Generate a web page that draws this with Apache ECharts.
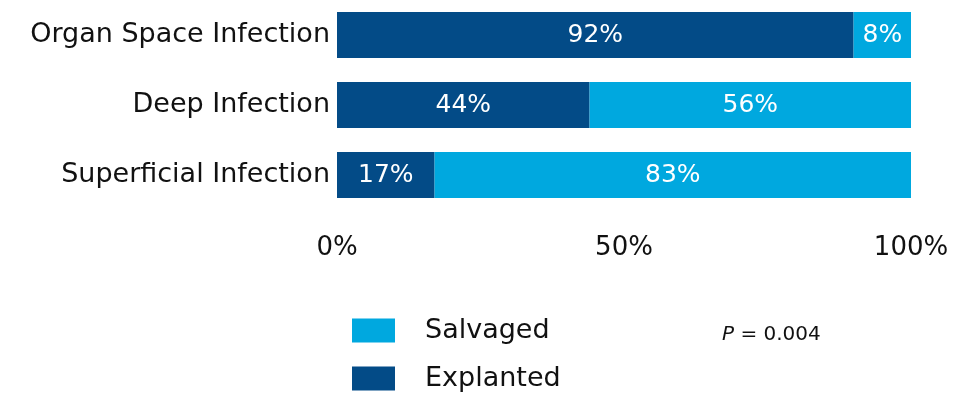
<!DOCTYPE html>
<html>
<head>
<meta charset="utf-8">
<script src="https://cdn.jsdelivr.net/npm/echarts@6/dist/echarts.min.js"></script>
<style>
  html, body { margin: 0; padding: 0; background: #fff; }
  #chart { width: 975px; height: 396px; }
</style>
</head>
<body>
<div id="chart"></div>
<script>
const categories = ['Organ Space Infection', 'Deep Infection', 'Superficial Infection'];
// bar lengths as drawn (%)
const explanted = [90, 44, 17];
const salvaged = [10, 56, 83];
// label text printed on the bars
const explantedLabels = ['92%', '44%', '17%'];
const salvagedLabels = ['8%', '56%', '83%'];
const pValue = '0.004';

const darkBlue = '#034b87';
const lightBlue = '#00a8df';
const font = 'DejaVu Sans';

let chart = echarts.init(document.getElementById('chart'));

function legendBox(name, top) {
    return {
        left: 352,
        top: top,
        padding: 0,
        itemWidth: 43,
        itemHeight: 24,
        icon: 'rect',
        data: [name],
        selectedMode: false,
        textStyle: { fontSize: 27, color: '#111', padding: [0, 0, 0, 25], fontFamily: font }
    };
}

const option = {
    animation: false,
    textStyle: { fontFamily: font },
    grid: { left: 337, top: 0, width: 574, height: 210 },
    xAxis: {
        type: 'value',
        min: 0,
        max: 100,
        interval: 50,
        axisLine: { show: false },
        axisTick: { show: false },
        splitLine: { show: false },
        axisLabel: {
            formatter: '{value}%',
            fontSize: 26,
            color: '#111',
            margin: 25,
            fontFamily: font
        }
    },
    yAxis: {
        type: 'category',
        inverse: true,
        data: categories,
        axisLine: { show: false },
        axisTick: { show: false },
        axisLabel: {
            fontSize: 27,
            color: '#111',
            margin: 7,
            fontFamily: font
        }
    },
    legend: [legendBox('Salvaged', 317), legendBox('Explanted', 365)],
    graphic: [{
        type: 'text',
        left: 722,
        top: 325,
        style: {
            text: '{i|P} = ' + pValue,
            fill: '#111',
            font: '20px ' + font,
            rich: {
                i: { fontStyle: 'italic', fontSize: 20, fontFamily: font, fill: '#111' }
            }
        }
    }],
    series: [
        {
            name: 'Explanted',
            type: 'bar',
            stack: 'total',
            barWidth: 46,
            data: explanted,
            itemStyle: { color: darkBlue },
            label: {
                show: true,
                position: 'inside',
                color: '#fff',
                fontSize: 25,
                fontFamily: font,
                formatter: p => explantedLabels[p.dataIndex]
            }
        },
        {
            name: 'Salvaged',
            type: 'bar',
            stack: 'total',
            barWidth: 46,
            data: salvaged,
            itemStyle: { color: lightBlue },
            label: {
                show: true,
                position: 'inside',
                color: '#fff',
                fontSize: 25,
                fontFamily: font,
                formatter: p => salvagedLabels[p.dataIndex]
            }
        }
    ]
};

chart.setOption(option);
</script>
</body>
</html>
